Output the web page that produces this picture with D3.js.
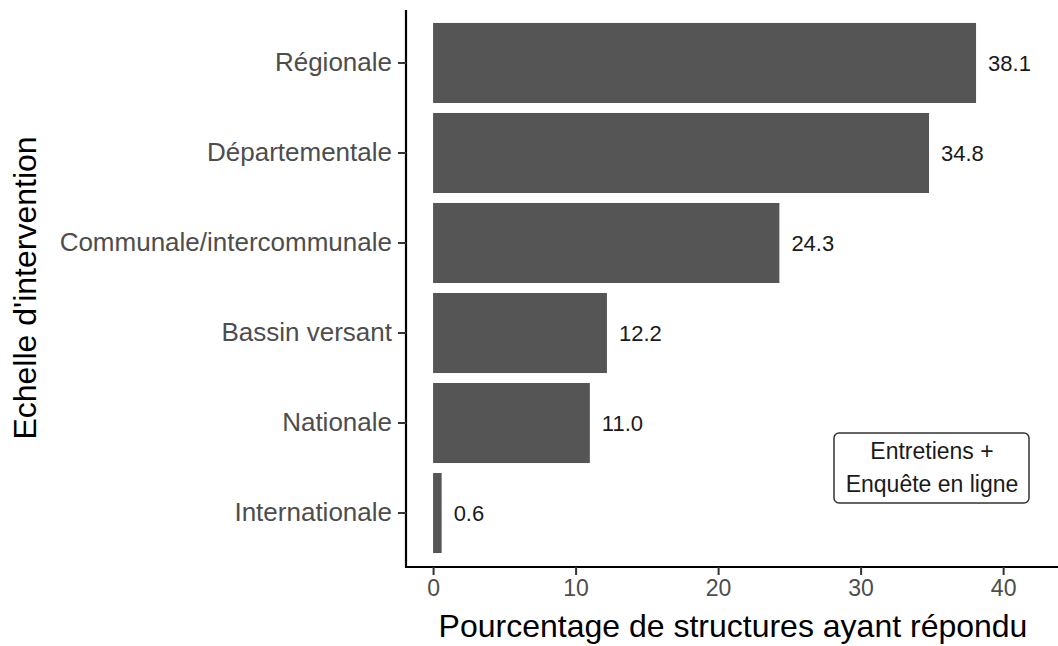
<!DOCTYPE html>
<html>
<head>
<meta charset="utf-8">
<script src="https://cdn.jsdelivr.net/npm/d3@7.9.0/dist/d3.min.js"></script>
<style>
  body { margin: 0; background: #fff; }
  svg { font-family: "Liberation Sans", Arial, sans-serif; }
</style>
</head>
<body>
<svg id="chart" width="1058" height="646"></svg>
<script>
// Data (top → bottom)
const categories = ['Régionale', 'Départementale', 'Communale/intercommunale', 'Bassin versant', 'Nationale', 'Internationale'];
const percents = [38.1, 34.8, 24.3, 12.2, 11.0, 0.6];
const xTicks = [0, 10, 20, 30, 40];
const legendLines = ['Entretiens +', 'Enquête en ligne'];

const svg = d3.select('#chart');
const rows = categories.map((c, i) => ({ cat: c, value: percents[i] }));

// Scales
const x = d3.scaleLinear().domain([-1.9, 43.85]).range([406, 1058]);
const y = d3.scaleBand().domain(categories).range([10, 566]).paddingInner(0.111).paddingOuter(0.144);

// Bars
svg.append('g').selectAll('rect')
  .data(rows)
  .join('rect')
  .attr('x', x(0))
  .attr('y', d => y(d.cat))
  .attr('width', d => x(d.value) - x(0))
  .attr('height', y.bandwidth())
  .attr('fill', '#555555');

// Value labels
svg.append('g').selectAll('text')
  .data(rows)
  .join('text')
  .attr('x', d => x(d.value) + 12)
  .attr('y', d => y(d.cat) + y.bandwidth() / 2)
  .attr('dy', '0.36em')
  .attr('font-size', 22)
  .attr('fill', '#1a1a1a')
  .text(d => d.value.toFixed(1));

// Y axis
const yAxis = svg.append('g')
  .attr('transform', 'translate(406,0)')
  .call(d3.axisLeft(y).tickSize(8).tickPadding(6));
yAxis.select('.domain').attr('stroke', '#000').attr('stroke-width', 2.2).attr('d', 'M0,10V567');
yAxis.selectAll('.tick line').attr('stroke', '#333').attr('stroke-width', 2);
yAxis.selectAll('.tick text').attr('font-size', 26).attr('fill', '#4d4d4d').attr('font-family', null);

// X axis
const xAxis = svg.append('g')
  .attr('transform', 'translate(0,567)')
  .call(d3.axisBottom(x).tickValues(xTicks).tickSize(8).tickPadding(5));
xAxis.select('.domain').attr('stroke', '#000').attr('stroke-width', 2.2).attr('d', 'M405,0H1058');
xAxis.selectAll('.tick line').attr('stroke', '#333').attr('stroke-width', 2);
xAxis.selectAll('.tick text').attr('font-size', 23).attr('fill', '#4d4d4d').attr('font-family', null);

// Axis titles
svg.append('text')
  .attr('x', 733).attr('y', 637)
  .attr('text-anchor', 'middle')
  .attr('font-size', 32)
  .attr('fill', '#000')
  .text('Pourcentage de structures ayant répondu');

svg.append('text')
  .attr('transform', 'translate(36,288) rotate(-90)')
  .attr('text-anchor', 'middle')
  .attr('font-size', 32)
  .attr('fill', '#000')
  .text("Echelle d'intervention");

// Annotation box
const lg = svg.append('g');
lg.append('rect')
  .attr('x', 834).attr('y', 433)
  .attr('width', 195).attr('height', 70)
  .attr('rx', 5)
  .attr('fill', '#fff').attr('stroke', '#333').attr('stroke-width', 1.5);
lg.selectAll('text')
  .data(legendLines)
  .join('text')
  .attr('x', 932)
  .attr('y', (d, i) => 459 + i * 33)
  .attr('text-anchor', 'middle')
  .attr('font-size', 23)
  .attr('fill', '#1a1a1a')
  .text(d => d);
</script>
</body>
</html>
